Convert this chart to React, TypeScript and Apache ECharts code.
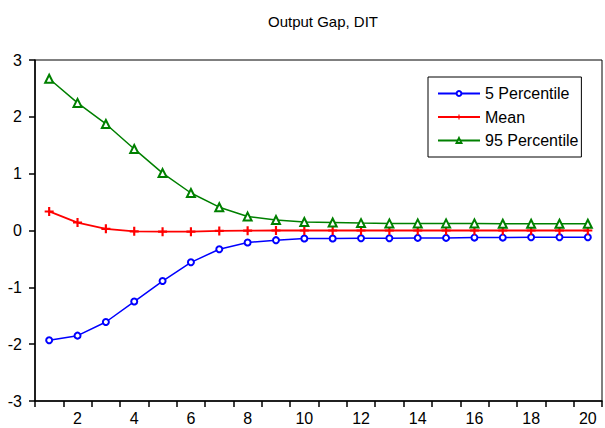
import React, { useEffect, useRef } from "react";
import * as echarts from "echarts";

const categories = ["1","2","3","4","5","6","7","8","9","10","11","12","13","14","15","16","17","18","19","20"];
const p5 = [-1.93, -1.85, -1.61, -1.25, -0.89, -0.56, -0.33, -0.21, -0.17, -0.14, -0.14, -0.135, -0.135, -0.13, -0.13, -0.125, -0.125, -0.12, -0.12, -0.12];
const meanVals = [0.335, 0.14, 0.03, -0.015, -0.02, -0.02, -0.008, -0.003, 0.0, 0.0, 0.0, 0.0, 0.0, 0.0, 0.0, 0.0, 0.0, 0.0, 0.0, 0.0];
const p95 = [2.67, 2.245, 1.875, 1.435, 1.01, 0.66, 0.41, 0.245, 0.185, 0.15, 0.14, 0.13, 0.125, 0.125, 0.125, 0.125, 0.12, 0.12, 0.12, 0.12];
const seriesNames = ["5 Percentile", "Mean", "95 Percentile"];
const title = "Output Gap, DIT";

const plusPath = "path://M3.8,0H6.2V3.8H10V6.2H6.2V10H3.8V6.2H0V3.8H3.8Z";

export default function App() {
  const ref = useRef<HTMLDivElement>(null);
  useEffect(() => {
    if (!ref.current) return;
    const chart = echarts.init(ref.current, undefined, { renderer: "svg" });
    const font = "Liberation Sans, Arial, sans-serif";
    chart.setOption({
      animation: false,
      backgroundColor: "#fff",
      title: {
        text: title,
        left: 318,
        textAlign: "center",
        top: 9,
        textStyle: { fontFamily: font, fontSize: 15, fontWeight: "normal", color: "#000" },
      },
      grid: {
        left: 35,
        right: 3,
        top: 60,
        bottom: 27,
        show: true,
        borderColor: "#000",
        borderWidth: 1,
        containLabel: false,
      },
      legend: {
        orient: "vertical",
        left: 428,
        top: 77,
        padding: [7.5, 3, 7.5, 9],
        borderColor: "#000",
        borderWidth: 1,
        backgroundColor: "#fff",
        itemWidth: 42,
        itemHeight: 6,
        itemGap: 5.5,
        textStyle: { fontFamily: font, fontSize: 16, color: "#000", lineHeight: 18 },
        data: seriesNames,
      },
      xAxis: {
        type: "category",
        data: categories,
        boundaryGap: true,
        axisLine: { onZero: false, lineStyle: { color: "#000", width: 1.5 } },
        axisTick: { show: true, interval: 0, length: 6, lineStyle: { color: "#000", width: 1.5 } },
        axisLabel: {
          interval: (idx: number) => idx % 2 === 1,
          fontFamily: font,
          fontSize: 16,
          color: "#000",
          margin: 9,
        },
        splitLine: { show: false },
      },
      yAxis: {
        type: "value",
        min: -3,
        max: 3,
        interval: 1,
        axisLine: { show: true, lineStyle: { color: "#000", width: 1.5 } },
        axisTick: { show: true, length: 6, lineStyle: { color: "#000", width: 1.5 } },
        axisLabel: { fontFamily: font, fontSize: 16, color: "#000", margin: 13, padding: [0, 0, 6, 0] },
        splitLine: { show: false },
      },
      series: [
        {
          name: seriesNames[0],
          type: "line",
          data: p5,
          symbol: "emptyCircle",
          symbolSize: 6,
          lineStyle: { color: "#0000ff", width: 1.5 },
          itemStyle: { color: "#0000ff", borderWidth: 1.3 },
        },
        {
          name: seriesNames[1],
          type: "line",
          data: meanVals,
          symbol: plusPath,
          symbolSize: 9,
          lineStyle: { color: "#ff0000", width: 1.8 },
          itemStyle: { color: "#ff0000" },
        },
        {
          name: seriesNames[2],
          type: "line",
          data: p95,
          symbol: "emptyTriangle",
          symbolSize: 8,
          lineStyle: { color: "#008000", width: 1.5 },
          itemStyle: { color: "#008000", borderWidth: 1.3 },
        },
      ],
    });
    return () => chart.dispose();
  }, []);
  return <div ref={ref} style={{ width: 605, height: 428, position: "absolute", left: 0, top: 0 }} />;
}
